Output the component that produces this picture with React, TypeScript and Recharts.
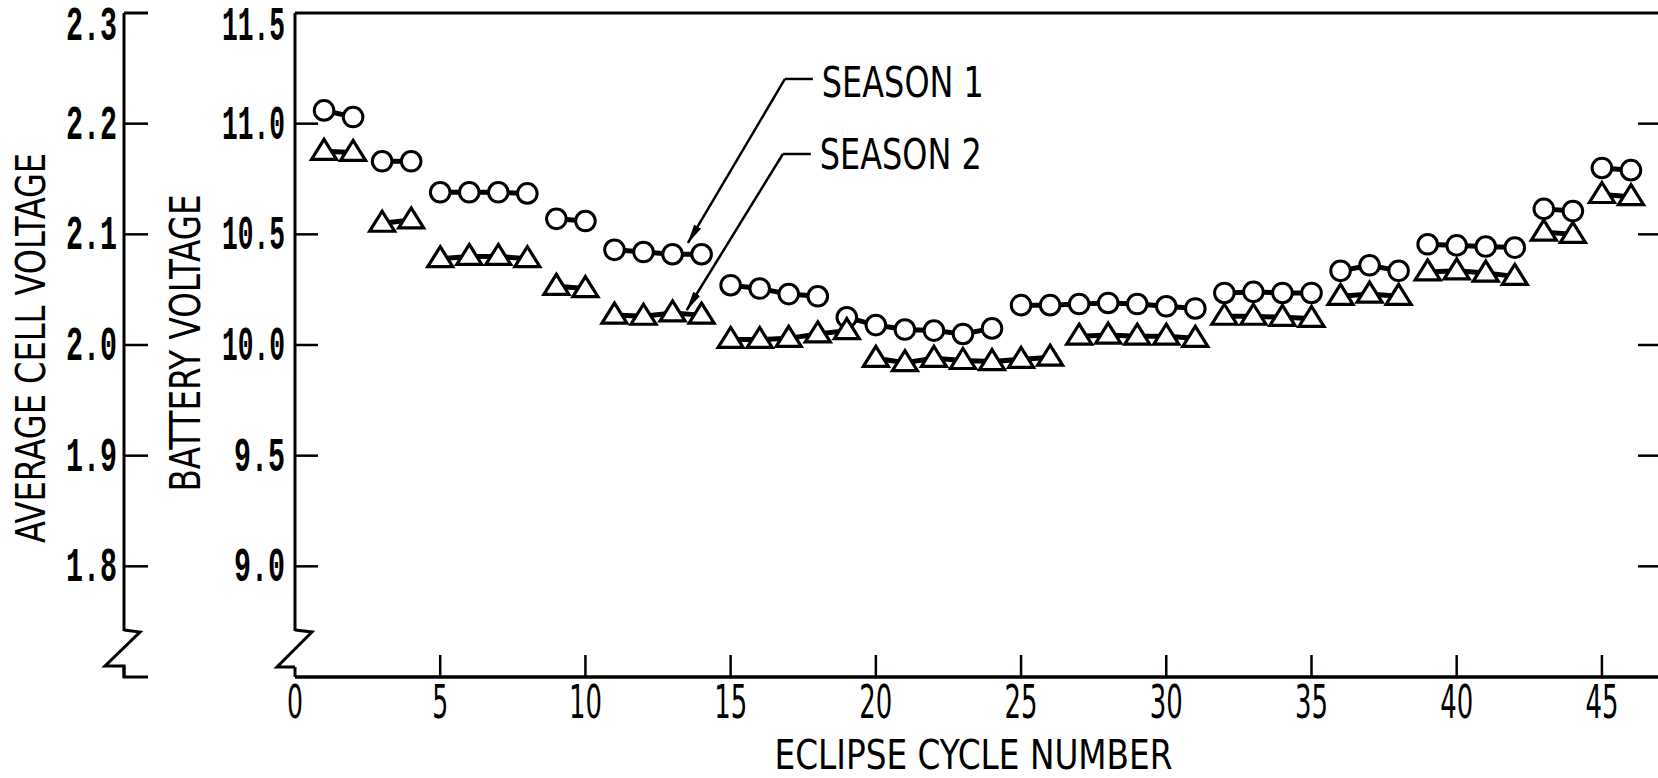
import React from 'react';
import { ScatterChart, Scatter, XAxis, YAxis, ReferenceLine, ReferenceDot } from 'recharts';

// ---- data ----
const cycles = [
  1, 2, 3, 4, 5, 6, 7, 8, 9, 10, 11, 12, 13, 14, 15, 16, 17, 18, 19, 20, 21, 22, 23,
  24, 25, 26, 27, 28, 29, 30, 31, 32, 33, 34, 35, 36, 37, 38, 39, 40, 41, 42, 43, 44, 45, 46,
];
const season1Volts = [
  11.06, 11.03, 10.83, 10.83, 10.69, 10.69, 10.69, 10.685, 10.57, 10.56, 10.43, 10.42, 10.41,
  10.41, 10.27, 10.255, 10.23, 10.22, 10.125, 10.09, 10.07, 10.065, 10.05, 10.075, 10.18, 10.18,
  10.185, 10.19, 10.185, 10.175, 10.165, 10.235, 10.24, 10.235, 10.235, 10.335, 10.36, 10.335,
  10.455, 10.45, 10.445, 10.44, 10.615, 10.605, 10.8, 10.79,
];
const season2Volts = [
  10.875, 10.87, 10.55, 10.565, 10.39, 10.4, 10.4, 10.39, 10.265, 10.255, 10.135, 10.13, 10.145,
  10.135, 10.025, 10.025, 10.03, 10.05, 10.065, 9.94, 9.92, 9.94, 9.93, 9.925, 9.935, 9.945,
  10.04, 10.045, 10.04, 10.04, 10.03, 10.13, 10.13, 10.125, 10.12, 10.22, 10.23, 10.22, 10.33,
  10.335, 10.325, 10.31, 10.51, 10.5, 10.68, 10.67,
];
// last cycle of each connected run of points
const season1GroupEnds = [2, 4, 8, 10, 14, 18, 24, 31, 35, 38, 42, 44, 46];
const season2GroupEnds = [2, 4, 8, 10, 14, 19, 26, 31, 35, 38, 42, 44, 46];

const xTicks = [0, 5, 10, 15, 20, 25, 30, 35, 40, 45];
const batteryTicks = [8.5, 9.0, 9.5, 10.0, 10.5, 11.0, 11.5];
const cellTicks = [1.7, 1.8, 1.9, 2.0, 2.1, 2.2, 2.3];

const xTitle = 'ECLIPSE CYCLE NUMBER';
const batteryTitle = 'BATTERY VOLTAGE';
const cellTitle = 'AVERAGE CELL VOLTAGE';
const season1Label = 'SEASON 1';
const season2Label = 'SEASON 2';

// annotation leader lines (data coordinates)
const season1Leader = { labelX: 17.83, elbowX: 16.87, y: 11.202, tipX: 13.53, tipY: 10.461 };
const season2Leader = { labelX: 17.76, elbowX: 16.8, y: 10.863, tipX: 13.49, tipY: 10.158 };

function splitGroups(values: number[], ends: number[]) {
  const groups: { x: number; y: number }[][] = [];
  let start = 0;
  ends.forEach((end) => {
    const g: { x: number; y: number }[] = [];
    for (let i = 0; i < cycles.length; i++) {
      if (cycles[i] > start && cycles[i] <= end) g.push({ x: cycles[i], y: values[i] });
    }
    groups.push(g);
    start = end;
  });
  return groups;
}

const s1Groups = splitGroups(season1Volts, season1GroupEnds);
const s2Groups = splitGroups(season2Volts, season2GroupEnds);

const INK = '#000';
const condensed = "'Liberation Sans Narrow', 'DejaVu Sans Condensed', 'Roboto Condensed', 'DejaVu Sans', sans-serif";
const mono = "'Liberation Mono', 'DejaVu Sans Mono', monospace";

const CircleMark = (p: any) => (
  <circle cx={p.cx} cy={p.cy} r={9.8} fill="#fff" stroke={INK} strokeWidth={3} />
);
const TriangleMark = (p: any) => (
  <path
    d={`M${p.cx},${p.cy - 12} L${p.cx + 12.5},${p.cy + 8} L${p.cx - 12.5},${p.cy + 8} Z`}
    fill="#fff"
    stroke={INK}
    strokeWidth={3.2}
  />
);

const YLabel = ({ x, y, text, width }: any) => (
  <text
    x={x}
    y={y}
    textAnchor="end"
    fontFamily={mono}
    fontWeight="bold"
    fontSize={48}
    fill={INK}
    textLength={width}
    lengthAdjust="spacingAndGlyphs"
  >
    {text}
  </text>
);

const BatteryTick = (props: any) => {
  const { x, y, payload } = props;
  const v = payload.value;
  if (Math.abs(v - 8.5) < 1e-6) {
    return (
      <g>
        <rect x={x - 3} y={y - 46} width={6} height={36} fill="#fff" />
        <path
          d={`M${x},${y - 47} L${x + 17},${y - 45} L${x - 18},${y - 10} L${x},${y - 10}`}
          fill="none"
          stroke={INK}
          strokeWidth={3}
          strokeLinejoin="miter"
        />
      </g>
    );
  }
  const label = v.toFixed(1);
  const top = Math.abs(v - 11.5) < 1e-6;
  return (
    <g>
      {!top && <line x1={x} x2={x + 23} y1={y} y2={y} stroke={INK} strokeWidth={2.5} />}
      <YLabel x={x - 10} y={y + (top ? 12 : 0) + 15} text={label} width={label.length === 4 ? 63 : 51} />
    </g>
  );
};

const CellTick = (props: any) => {
  const { x, y, payload } = props;
  const v = payload.value;
  if (Math.abs(v - 1.7) < 1e-6) {
    return (
      <g>
        <rect x={x - 3} y={y - 46} width={6} height={35} fill="#fff" />
        <path
          d={`M${x},${y - 47} L${x + 16},${y - 45} L${x - 19},${y - 11} L${x},${y - 11} L${x},${y} L${x + 24},${y}`}
          fill="none"
          stroke={INK}
          strokeWidth={3}
        />
      </g>
    );
  }
  const label = v.toFixed(1);
  const top = Math.abs(v - 2.3) < 1e-6;
  return (
    <g>
      <line x1={x} x2={x + 24} y1={y} y2={y} stroke={INK} strokeWidth={top ? 3 : 2.5} />
      <YLabel x={x - 7} y={y + (top ? 12 : 0) + 15} text={label} width={51} />
    </g>
  );
};

const BottomTick = (props: any) => {
  const { x, y, payload } = props;
  const v = payload.value;
  const label = String(v);
  return (
    <g>
      {v > 0 && <line x1={x} x2={x} y1={y} y2={y - 22} stroke={INK} strokeWidth={2.5} />}
      <text
        x={x}
        y={y + 41}
        textAnchor="middle"
        fontFamily={condensed}
        fontStretch="condensed"
        fontSize={46}
        fill={INK}
        textLength={label.length === 2 ? 33 : 16}
        lengthAdjust="spacingAndGlyphs"
      >
        {label}
      </text>
    </g>
  );
};

const TopTick = (props: any) => {
  const { x, y, payload } = props;
  if (payload.value <= 0) return <g />;
  return <line x1={x} x2={x} y1={y} y2={y + 22} stroke={INK} strokeWidth={2.5} />;
};

const RightTick = (props: any) => {
  const { x, y, payload } = props;
  const v = payload.value;
  if (v <= 8.5 || v >= 11.5) return <g />;
  return <line x1={x} x2={x - 22} y1={y} y2={y} stroke={INK} strokeWidth={2.5} />;
};

const seasonText = (text: string, dy: number) => (p: any) => {
  const vb = p.viewBox || {};
  return (
    <text
      x={vb.x + 9}
      y={vb.y + dy}
      fontFamily={condensed}
      fontStretch="condensed"
      fontSize={42}
      fill={INK}
      textLength={162}
      lengthAdjust="spacingAndGlyphs"
    >
      {text}
    </text>
  );
};

const XTitle = (p: any) => {
  const vb = p.viewBox || {};
  return (
    <text
      x={vb.x + vb.width / 2 - 4}
      y={vb.y + 92}
      textAnchor="middle"
      fontFamily={condensed}
      fontStretch="condensed"
      fontSize={40}
      fill={INK}
      textLength={398}
      lengthAdjust="spacingAndGlyphs"
    >
      {xTitle}
    </text>
  );
};

const BatteryTitle = (p: any) => {
  const vb = p.viewBox || {};
  const cx = vb.x + 61;
  const cy = vb.y + vb.height / 2 - 2;
  return (
    <text
      x={cx}
      y={cy}
      transform={`rotate(-90 ${cx} ${cy})`}
      textAnchor="middle"
      dominantBaseline="central"
      fontFamily={condensed}
      fontStretch="condensed"
      fontSize={42}
      fill={INK}
      textLength={297}
      lengthAdjust="spacingAndGlyphs"
    >
      {batteryTitle}
    </text>
  );
};

const CellTitle = (p: any) => {
  const vb = p.viewBox || {};
  const cx = vb.x + 31;
  const cy = vb.y + vb.height / 2 + 3;
  return (
    <text
      x={cx}
      y={cy}
      transform={`rotate(-90 ${cx} ${cy})`}
      textAnchor="middle"
      dominantBaseline="central"
      fontFamily={condensed}
      fontStretch="condensed"
      fontSize={40}
      fill={INK}
      textLength={390}
      lengthAdjust="spacingAndGlyphs"
    >
      {cellTitle}
    </text>
  );
};

export default function App() {
  return (
    <div style={{ position: 'absolute', left: 0, top: 0, width: 1658, height: 778, overflow: 'hidden', background: '#fff' }}>
      <svg width={0} height={0} style={{ position: 'absolute' }}>
        <defs>
          <marker id="arrowHead" markerWidth={20} markerHeight={8} refX={19} refY={4} orient="auto" markerUnits="userSpaceOnUse">
            <path d="M0,0 L20,4 L0,8 Z" fill={INK} />
          </marker>
        </defs>
      </svg>
      <ScatterChart width={1662} height={778} margin={{ top: 12, right: 1, bottom: 0, left: 0 }}>
        <XAxis
          xAxisId="b"
          type="number"
          dataKey="x"
          domain={[0, 47]}
          allowDataOverflow
          ticks={xTicks}
          interval={0}
          height={101}
          tickSize={0}
          tickMargin={0}
          tickLine={false}
          axisLine={{ stroke: INK, strokeWidth: 3.5 }}
          tick={BottomTick}
          label={XTitle}
        />
        <XAxis
          xAxisId="t"
          orientation="top"
          type="number"
          domain={[0, 47]}
          allowDataOverflow
          ticks={xTicks}
          interval={0}
          height={1}
          tickSize={0}
          tickMargin={0}
          tickLine={false}
          axisLine={{ stroke: INK, strokeWidth: 3 }}
          tick={TopTick}
        />
        <YAxis
          yAxisId="batt"
          type="number"
          dataKey="y"
          domain={[8.5, 11.5]}
          allowDataOverflow
          ticks={batteryTicks}
          interval={0}
          width={171}
          tickSize={0}
          tickMargin={0}
          tickLine={false}
          axisLine={{ stroke: INK, strokeWidth: 3 }}
          tick={BatteryTick}
          label={BatteryTitle}
        />
        <YAxis
          yAxisId="cell"
          type="number"
          domain={[1.7, 2.3]}
          allowDataOverflow
          ticks={cellTicks}
          interval={0}
          width={124}
          tickSize={0}
          tickMargin={0}
          tickLine={false}
          axisLine={{ stroke: INK, strokeWidth: 3 }}
          tick={CellTick}
          label={CellTitle}
        />
        <YAxis
          yAxisId="r"
          orientation="right"
          type="number"
          domain={[8.5, 11.5]}
          allowDataOverflow
          ticks={batteryTicks}
          interval={0}
          width={1}
          tickSize={0}
          tickMargin={0}
          tickLine={false}
          axisLine={{ stroke: INK, strokeWidth: 3 }}
          tick={RightTick}
        />

        {s1Groups.map((g, i) => (
          <Scatter
            key={`s1-${i}`}
            xAxisId="b"
            yAxisId="batt"
            data={g}
            fill={INK}
            line={{ stroke: INK, strokeWidth: 5 }}
            shape={CircleMark}
            isAnimationActive={false}
            legendType="none"
          />
        ))}
        {s2Groups.map((g, i) => (
          <Scatter
            key={`s2-${i}`}
            xAxisId="b"
            yAxisId="batt"
            data={g}
            fill={INK}
            line={{ stroke: INK, strokeWidth: 5 }}
            shape={TriangleMark}
            isAnimationActive={false}
            legendType="none"
          />
        ))}

        <ReferenceLine
          xAxisId="b"
          yAxisId="batt"
          ifOverflow="visible"
          segment={[{ x: season1Leader.labelX, y: season1Leader.y }, { x: season1Leader.elbowX, y: season1Leader.y }]}
          stroke={INK}
          strokeWidth={2.5}
        />
        <ReferenceLine
          xAxisId="b"
          yAxisId="batt"
          ifOverflow="visible"
          segment={[{ x: season1Leader.elbowX, y: season1Leader.y }, { x: season1Leader.tipX, y: season1Leader.tipY }]}
          stroke={INK}
          strokeWidth={2.5}
          markerEnd="url(#arrowHead)"
        />
        <ReferenceLine
          xAxisId="b"
          yAxisId="batt"
          ifOverflow="visible"
          segment={[{ x: season2Leader.labelX, y: season2Leader.y }, { x: season2Leader.elbowX, y: season2Leader.y }]}
          stroke={INK}
          strokeWidth={2.5}
        />
        <ReferenceLine
          xAxisId="b"
          yAxisId="batt"
          ifOverflow="visible"
          segment={[{ x: season2Leader.elbowX, y: season2Leader.y }, { x: season2Leader.tipX, y: season2Leader.tipY }]}
          stroke={INK}
          strokeWidth={2.5}
          markerEnd="url(#arrowHead)"
        />
        <ReferenceDot
          xAxisId="b"
          yAxisId="batt"
          ifOverflow="visible"
          x={season1Leader.labelX}
          y={season1Leader.y}
          r={0}
          stroke="none"
          fill="none"
          label={seasonText(season1Label, 18)}
        />
        <ReferenceDot
          xAxisId="b"
          yAxisId="batt"
          ifOverflow="visible"
          x={season2Leader.labelX}
          y={season2Leader.y}
          r={0}
          stroke="none"
          fill="none"
          label={seasonText(season2Label, 15)}
        />
      </ScatterChart>
    </div>
  );
}
